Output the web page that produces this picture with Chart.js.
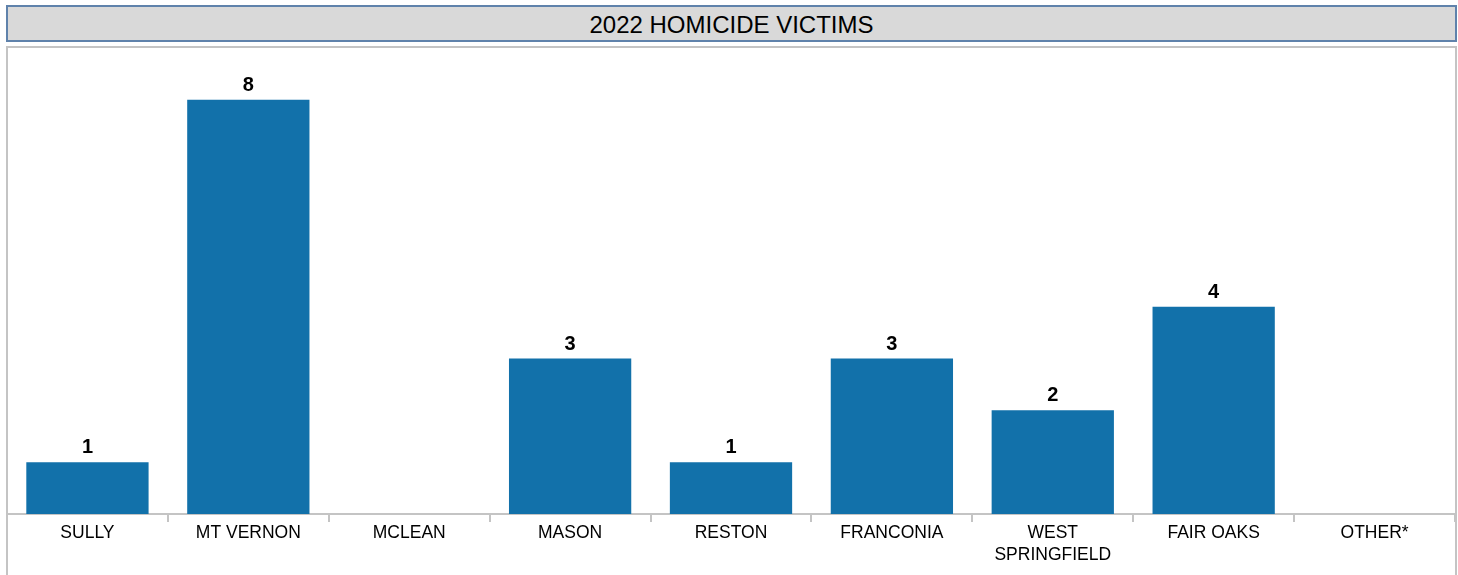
<!DOCTYPE html>
<html>
<head>
<meta charset="utf-8">
<script src="https://cdn.jsdelivr.net/npm/chart.js@4"></script>
<style>
  html, body { margin: 0; padding: 0; background: #fff; width: 1458px; height: 575px; overflow: hidden; }
  body { position: relative; font-family: "Liberation Sans", Arial, sans-serif; }
  #title {
    position: absolute; left: 6px; top: 5px; width: 1447px; height: 33px;
    background: #d9d9d9; border: 2px solid #5f82ab;
    text-align: center; font-size: 24px; line-height: 36px; color: #000;
  }
  #frame {
    position: absolute; left: 6px; top: 46px; width: 1447px; height: 560px;
    border: 2px solid #c4c4c4; background: #fff;
  }
  #wrap { position: absolute; left: 7px; top: 48px; width: 1448px; height: 527px; }
</style>
</head>
<body>
<div id="title">2022 HOMICIDE VICTIMS</div>
<div id="frame"></div>
<div id="wrap"><canvas id="chart" width="1448" height="527"></canvas></div>
<script>
'use strict';

// ── Data ──────────────────────────────────────────────────────────────────────
const districts = ['SULLY', 'MT VERNON', 'MCLEAN', 'MASON', 'RESTON', 'FRANCONIA',
                   ['WEST', 'SPRINGFIELD'], 'FAIR OAKS', 'OTHER*'];
const victims   = [1, 8, 0, 3, 1, 3, 2, 4, 0];
const yMax = 9;

// values drawn above each bar (skip zeros)
const barLabels = {
  id: 'barLabels',
  afterDatasetsDraw(chart) {
    const ctx = chart.ctx;
    const meta = chart.getDatasetMeta(0);
    ctx.save();
    ctx.font = 'bold 20px "Liberation Sans", Arial, sans-serif';
    ctx.fillStyle = '#000';
    ctx.textAlign = 'center';
    ctx.textBaseline = 'alphabetic';
    meta.data.forEach((bar, i) => {
      if (!victims[i]) return;
      ctx.fillText(String(victims[i]), bar.x, bar.y - 9);
    });
    ctx.restore();
  }
};

new Chart(document.getElementById('chart'), {
  type: 'bar',
  data: {
    labels: districts,
    datasets: [{
      data: victims,
      backgroundColor: '#1271aa',
      borderWidth: 0,
      categoryPercentage: 1,
      barPercentage: 0.76,
    }]
  },
  options: {
    responsive: false,
    animation: false,
    devicePixelRatio: 1,
    layout: { padding: { top: 0, left: 0, right: 0, bottom: 9 } },
    plugins: { legend: { display: false }, tooltip: { enabled: false } },
    scales: {
      y: { display: false, min: 0, max: yMax },
      x: {
        grid: {
          offset: true,
          drawOnChartArea: false,
          drawTicks: true,
          tickLength: 8,
          color: '#c4c4c4',
          lineWidth: 2,
        },
        border: { color: '#c4c4c4', width: 2 },
        ticks: {
          padding: 0,
          maxRotation: 0,
          autoSkip: false,
          color: '#000',
          font: { family: '"Liberation Sans", Arial, sans-serif', size: 17.5, lineHeight: 1.26 },
        }
      }
    }
  },
  plugins: [barLabels]
});
</script>
</body>
</html>
